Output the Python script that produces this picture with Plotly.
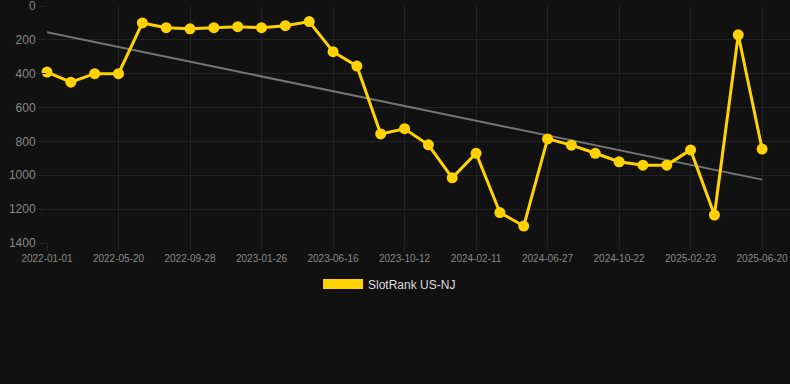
import numpy as np
import plotly.graph_objects as go

dates = [
    "2022-01-01", "2022-02-16", "2022-04-03", "2022-05-20", "2022-07-03",
    "2022-08-15", "2022-09-28", "2022-11-07", "2022-12-17", "2023-01-26",
    "2023-03-12", "2023-05-01", "2023-06-16", "2023-07-25", "2023-09-02",
    "2023-10-12", "2023-11-22", "2024-01-01", "2024-02-11", "2024-03-28",
    "2024-05-12", "2024-06-27", "2024-08-05", "2024-09-13", "2024-10-22",
    "2024-12-02", "2025-01-12", "2025-02-23", "2025-04-03", "2025-05-12",
    "2025-06-20",
]
rank = [
    390, 450, 400, 400, 100, 128, 135, 128, 122, 128, 116, 92,
    270, 355, 756, 725, 820, 1015, 870, 1220, 1300,
    785, 822, 870, 920, 940, 940, 850, 1235, 170, 845,
]
tick_labels = dates[::3]
y_ticks = [0, 200, 400, 600, 800, 1000, 1200, 1400]
series_name = "SlotRank US-NJ"

idx = np.arange(len(rank))
slope, intercept = np.polyfit(idx, np.array(rank, dtype=float), 1)
trend = intercept + slope * idx

GOLD = "#FFD200"
BG = "#111111"
GRID = "#232323"

fig = go.Figure()
fig.add_trace(go.Scatter(
    x=dates, y=trend, mode="lines",
    line=dict(color="rgba(150,150,150,0.75)", width=2),
    showlegend=False, hoverinfo="skip",
))
fig.add_trace(go.Scatter(
    x=dates, y=rank, mode="lines+markers",
    line=dict(color=GOLD, width=3),
    marker=dict(color=GOLD, size=11),
    showlegend=False, name=series_name, cliponaxis=False,
))
fig.add_trace(go.Scatter(
    x=[None], y=[None], mode="lines",
    line=dict(color=GOLD, width=10),
    name=series_name, showlegend=True,
))

fig.update_layout(
    width=790, height=384,
    paper_bgcolor=BG, plot_bgcolor=BG,
    margin=dict(l=47, r=0, t=6, b=141),
    font=dict(family="Liberation Sans, Arial, sans-serif", color="#888888"),
    showlegend=True,
    legend=dict(
        orientation="h", x=0.461, xanchor="center", y=-0.173, yanchor="middle",
        font=dict(size=12, color="#dddddd"), itemwidth=40,
        bgcolor="rgba(0,0,0,0)",
    ),
    xaxis=dict(
        type="category", categoryorder="array", categoryarray=dates,
        range=[0, len(dates) - 1 + 1.17],
        tickmode="array", tickvals=tick_labels, ticktext=tick_labels,
        showgrid=True, gridcolor=GRID, gridwidth=1,
        ticks="outside", ticklen=6, tickcolor=GRID,
        tickfont=dict(size=10, color="#888888"),
        ticklabeloverflow="allow",
        showline=False, zeroline=False,
    ),
    yaxis=dict(
        range=[1400, 0],
        tickmode="array", tickvals=y_ticks,
        showgrid=True, gridcolor=GRID, gridwidth=1,
        ticks="outside", ticklen=8, tickcolor=GRID,
        tickfont=dict(size=12, color="#888888"),
        ticklabeloverflow="allow",
        showline=False, zeroline=False,
    ),
)

fig.write_html(
    "out.html",
    config={"displayModeBar": False},
    post_script="document.body.style.margin='0';document.body.style.background='#111111';",
)
